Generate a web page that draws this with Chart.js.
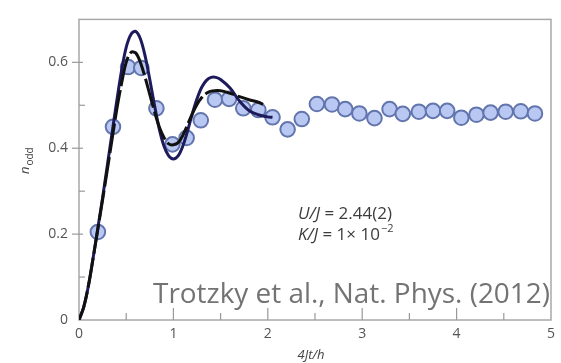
<!DOCTYPE html>
<html><head><meta charset="utf-8">
<script src="https://cdn.jsdelivr.net/npm/chart.js@4.4.0/dist/chart.umd.min.js"></script>
<style>html,body{margin:0;padding:0;background:#fff}</style>
</head><body>
<canvas id="c" width="561" height="363"></canvas>
<script>
// Measured data points (circles)
const expX = [0.20,0.36,0.52,0.66,0.82,0.99,1.14,1.29,1.44,1.59,1.74,1.90,2.05,2.21,2.36,2.52,2.68,2.82,2.97,3.13,3.29,3.43,3.60,3.75,3.90,4.05,4.21,4.36,4.52,4.68,4.83];
const expY = [0.205,0.450,0.589,0.587,0.493,0.409,0.424,0.465,0.513,0.515,0.493,0.489,0.472,0.444,0.468,0.503,0.502,0.491,0.481,0.470,0.491,0.480,0.485,0.487,0.487,0.471,0.478,0.483,0.485,0.486,0.481];
// Solid navy theory curve
const solidX = [0,0.05,0.10,0.15,0.20,0.25,0.30,0.35,0.40,0.45,0.50,0.55,0.60,0.65,0.70,0.75,0.80,0.85,0.90,0.95,1.00,1.05,1.10,1.15,1.20,1.25,1.30,1.35,1.40,1.45,1.50,1.60,1.70,1.80,1.90,2.00,2.05];
const solidY = [0,0.03,0.08,0.145,0.215,0.285,0.36,0.435,0.51,0.58,0.635,0.665,0.672,0.655,0.615,0.56,0.50,0.445,0.405,0.382,0.375,0.382,0.405,0.44,0.48,0.515,0.542,0.558,0.565,0.565,0.56,0.54,0.51,0.488,0.478,0.473,0.472];
// Dashed black theory curve
const dashX = [0,0.05,0.10,0.15,0.20,0.25,0.30,0.35,0.40,0.45,0.50,0.55,0.60,0.65,0.70,0.75,0.80,0.85,0.90,0.95,1.00,1.05,1.10,1.15,1.20,1.25,1.30,1.35,1.40,1.50,1.60,1.70,1.80,1.90,1.95];
const dashY = [0,0.03,0.08,0.145,0.212,0.28,0.35,0.42,0.49,0.55,0.60,0.623,0.622,0.60,0.565,0.525,0.485,0.45,0.425,0.41,0.408,0.413,0.43,0.455,0.48,0.502,0.518,0.528,0.533,0.534,0.528,0.52,0.513,0.507,0.502];
// Tick labels
const xTickLabels = ['0','1','2','3','4','5'];
const yTickLabels = ['0','0.2','0.4','0.6'];

const toXY = (xs, ys) => xs.map((x, i) => ({x, y: ys[i]}));

const decor = {
  id: 'decor',
  beforeDatasetsDraw(chart) {
    const {ctx, chartArea: a, scales: {x, y}} = chart;
    ctx.save();
    ctx.strokeStyle = '#a8a8a8';
    ctx.lineWidth = 1.5;
    ctx.strokeRect(a.left, a.top, a.right - a.left, a.bottom - a.top);
    ctx.lineWidth = 1.2;
    ctx.strokeStyle = '#999';
    x.ticks.forEach(t => {
      const px = x.getPixelForValue(t.value);
      const major = Math.abs(t.value - Math.round(t.value)) < 1e-6;
      if (t.value <= 0 || t.value >= 5) return;
      ctx.beginPath();
      ctx.moveTo(px, a.bottom);
      ctx.lineTo(px, a.bottom - (major ? 12 : 7));
      ctx.stroke();
    });
    y.ticks.forEach(t => {
      const py = y.getPixelForValue(t.value);
      const k = Math.round(t.value * 10);
      if (k <= 0 || k >= 7) return;
      ctx.beginPath();
      if (k % 2 === 0) { ctx.moveTo(a.left - 7, py); ctx.lineTo(a.left + 4, py); }
      else { ctx.moveTo(a.left, py); ctx.lineTo(a.left + 6, py); }
      ctx.stroke();
    });
    ctx.restore();
  },
  afterDraw(chart) {
    const {ctx, chartArea: a} = chart;
    ctx.save();
    // y title n_odd
    ctx.fillStyle = '#444';
    ctx.translate(29, 174);
    ctx.rotate(-Math.PI / 2);
    ctx.textBaseline = 'alphabetic';
    ctx.font = 'italic 13px "Open Sans"';
    ctx.fillText('n', 0, 0);
    const nw = ctx.measureText('n').width;
    ctx.font = '10px "Open Sans"';
    ctx.fillText('odd', nw + 1, 4);
    ctx.restore();

    ctx.save();
    ctx.fillStyle = '#444';
    ctx.font = 'italic 13px "Open Sans"';
    ctx.textAlign = 'center';
    ctx.textBaseline = 'middle';
    ctx.fillText('4Jt/h', (a.left + a.right) / 2 - 4, 355);

    // annotations
    ctx.textAlign = 'left';
    ctx.textBaseline = 'alphabetic';
    const line = (x0, yb, ital, rest) => {
      ctx.font = 'italic 17px "Open Sans"';
      ctx.fillText(ital, x0, yb);
      const w = ctx.measureText(ital).width;
      ctx.font = '17px "Open Sans"';
      ctx.fillText(rest, x0 + w, yb);
      return x0 + w + ctx.measureText(rest).width;
    };
    ctx.fillStyle = '#3c3c3c';
    line(298, 219, 'U/J', ' = 2.44(2)');
    const e = line(298, 240, 'K/J', ' = 1\u00d7 10');
    ctx.font = '11px "Open Sans"';
    ctx.fillText('\u22122', e + 1, 232);

    // citation
    ctx.fillStyle = '#737373';
    ctx.font = '28px "Open Sans"';
    ctx.textAlign = 'left';
    ctx.fillText('Trotzky et al., Nat. Phys. (2012)', 153, 303, 397);
    ctx.restore();
  }
};

new Chart(document.getElementById('c'), {
  type: 'scatter',
  data: {
    datasets: [
      {
        label: 'dashed', data: toXY(dashX, dashY), showLine: true,
        borderColor: '#111111', borderWidth: 3, borderDash: [30, 4],
        pointRadius: 0, tension: 0.35, fill: false
      },
      {
        label: 'solid', data: toXY(solidX, solidY), showLine: true,
        borderColor: '#1d1b5c', borderWidth: 3,
        pointRadius: 0, tension: 0.35, fill: false
      },
      {
        label: 'data', data: toXY(expX, expY), showLine: false,
        pointRadius: 7.3, pointBackgroundColor: '#b9c8f2',
        pointBorderColor: '#6275ad', pointBorderWidth: 2
      }
    ]
  },
  options: {
    responsive: false,
    animation: false,
    layout: { padding: { left: 0, right: 8, top: 6, bottom: 0 } },
    plugins: { legend: { display: false }, tooltip: { enabled: false } },
    scales: {
      x: {
        type: 'linear', min: 0, max: 5,
        afterFit(s) { s.height = 43; },
        grid: { display: false, drawTicks: false },
        border: { display: false },
        ticks: {
          stepSize: 0.5, padding: 6, color: '#555',
          font: { family: '"Open Sans"', size: 14 },
          maxRotation: 0, autoSkip: false,
          callback: v => (Math.abs(v - Math.round(v)) < 1e-6 ? xTickLabels[Math.round(v)] : '')
        }
      },
      y: {
        type: 'linear', min: 0, max: 0.7,
        afterFit(s) { s.width = 79; },
        grid: { display: false, drawTicks: false },
        border: { display: false },
        ticks: {
          stepSize: 0.1, padding: 11, color: '#555',
          font: { family: '"Open Sans"', size: 14 },
          autoSkip: false,
          callback: v => { const k = Math.round(v * 10); return k % 2 === 0 && k <= 6 ? yTickLabels[k / 2] : ''; }
        }
      }
    }
  },
  plugins: [decor]
});
</script>
</body></html>
